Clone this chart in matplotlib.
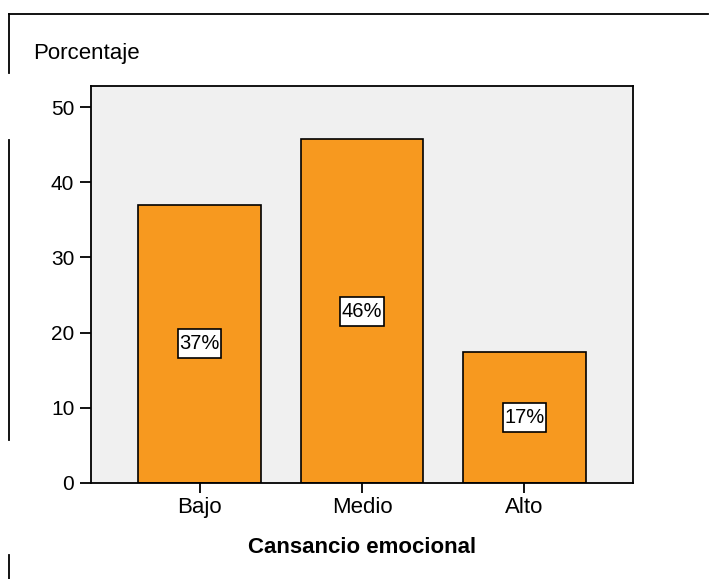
import matplotlib
matplotlib.use("Agg")
import matplotlib.pyplot as plt
from matplotlib.lines import Line2D
from matplotlib.patches import Rectangle

categories = ["Bajo", "Medio", "Alto"]
values = [37.0, 45.7, 17.4]
labels = ["37%", "46%", "17%"]
yticks = [0, 10, 20, 30, 40, 50]

plt.rcParams['font.family'] = ['Liberation Sans', 'DejaVu Sans']

W, H = 709, 579
fig = plt.figure(figsize=(W/100, H/100), dpi=100)
fig.patch.set_facecolor('white')

ax = fig.add_axes([91/W, 1-483/H, (633-91)/W, (483-86)/H])
ax.set_facecolor('#F0F0F0')
x = list(range(len(categories)))
ax.bar(x, values, width=0.757, color='#F7991F', edgecolor='black', linewidth=1.2, zorder=2)
ax.set_xlim(-0.668, 2.668)
ax.set_ylim(0, 52.8)
ax.set_yticks(yticks)
ax.set_xticks(x)
ax.set_xticklabels(categories, fontsize=16)
ax.tick_params(axis='y', labelsize=15, length=8, width=1.3, pad=4)
ax.tick_params(axis='x', length=7, width=1.3, pad=3)
for s in ax.spines.values():
    s.set_linewidth(1.3)
    s.set_color('black')

bw, bh = 0.265, 3.86  # label box size in data units
for xi, v, lab in zip(x, values, labels):
    ax.add_patch(Rectangle((xi - bw/2, v/2 - bh/2), bw, bh, facecolor='white',
                           edgecolor='black', linewidth=1.2, zorder=3))
    ax.text(xi, v/2, lab, ha='center', va='center', fontsize=14.5, zorder=4)

fig.text(33/W, 1-59/H, "Porcentaje", fontsize=16, ha='left', va='baseline')
fig.text(362/W, 1-553/H, "Cansancio emocional", fontsize=16, fontweight='bold', ha='center', va='baseline')

# outer frame lines
def fl(x0, y0, x1, y1):
    fig.add_artist(Line2D([x0/W, x1/W], [1-y0/H, 1-y1/H], color='black', linewidth=1.3, transform=fig.transFigure))
fl(9, 14, 708, 14)
fl(9, 14, 9, 73)
fl(9, 140, 9, 440)
fl(9, 555, 9, 579)

fig.savefig("out.png", dpi=100)
